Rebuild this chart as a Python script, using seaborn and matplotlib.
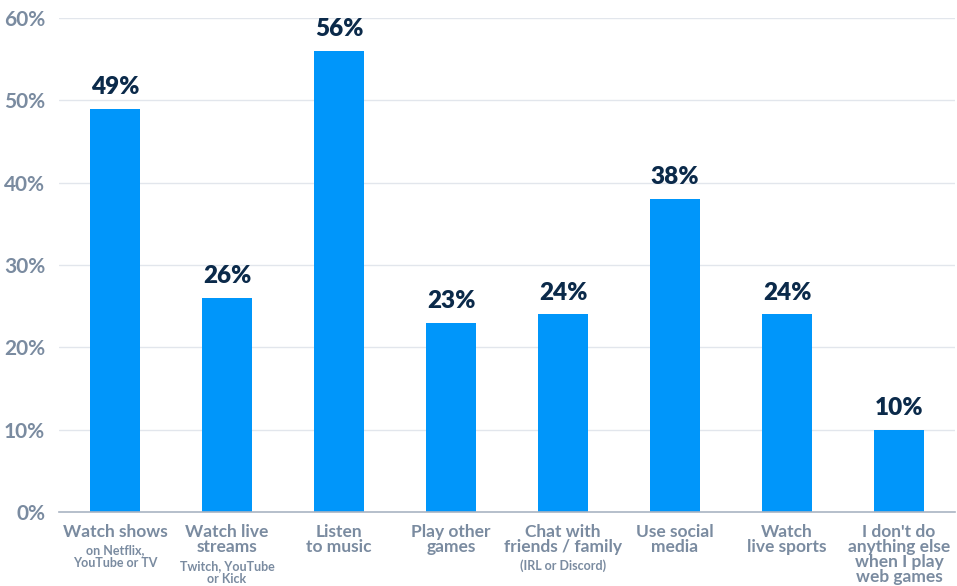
import matplotlib
matplotlib.use("Agg")
import matplotlib.pyplot as plt
import matplotlib.transforms as mtransforms
import seaborn as sns
import pandas as pd

categories = ["Watch shows", "Watch live\nstreams", "Listen\nto music", "Play other\ngames",
              "Chat with\nfriends / family", "Use social\nmedia", "Watch\nlive sports",
              "I don't do\nanything else\nwhen I play\nweb games"]
subtexts = ["on Netflix,\nYouTube or TV", "Twitch, YouTube\nor Kick", "", "",
            "(IRL or Discord)", "", "", ""]
values = [49, 26, 56, 23, 24, 38, 24, 10]
yticks = [0, 10, 20, 30, 40, 50, 60]

sns.set_theme(style="white")
plt.rcParams['font.family'] = ['Lato', 'DejaVu Sans']

BAR = "#0096FA"
NAVY = "#0B2A4A"
GRAY = "#7A8BA0"

fig = plt.figure(figsize=(9.57, 5.86), dpi=100)
ax = fig.add_axes([59/957, 1-512/586, 896/957, 494/586])

df = pd.DataFrame({"cat": [str(i) for i in range(len(values))], "val": values})
sns.barplot(data=df, x="cat", y="val", color=BAR, width=0.446, saturation=1,
            linewidth=0, ax=ax)

ax.set_ylim(0, 60)
ax.set_xlim(-0.5, len(values) - 0.5)
ax.set_yticks(yticks)
ax.set_yticklabels([f"{t}%" for t in yticks], color=GRAY, fontsize=15, fontweight="bold")
ax.tick_params(axis="y", length=0, pad=10)
ax.set_xticks([])
ax.set_xlabel("")
ax.set_ylabel("")
for y in yticks[1:]:
    ax.axhline(y, color="#E2E6EC", lw=1, zorder=0)
for s in ["top", "right", "left"]:
    ax.spines[s].set_visible(False)
ax.spines["bottom"].set_color("#A9B4C2")
ax.spines["bottom"].set_linewidth(1.2)

for i, v in enumerate(values):
    ax.text(i, v + 1.3, f"{v}%", ha="center", va="bottom", color=NAVY,
            fontsize=17.5, fontweight="heavy")

trans = mtransforms.blended_transform_factory(ax.transData, ax.transAxes)
for i, (c, s) in enumerate(zip(categories, subtexts)):
    ax.text(i, -0.024, c, transform=trans, ha="center", va="top", color=GRAY,
            fontsize=12.5, fontweight="bold", linespacing=0.93)
    if s:
        nlines = c.count("\n") + 1
        ax.text(i, -0.064 - (nlines - 1) * 0.0324, s, transform=trans, ha="center",
                va="top", color=GRAY, fontsize=9, fontweight="bold", linespacing=1.1)

fig.savefig("out.png", dpi=100)
